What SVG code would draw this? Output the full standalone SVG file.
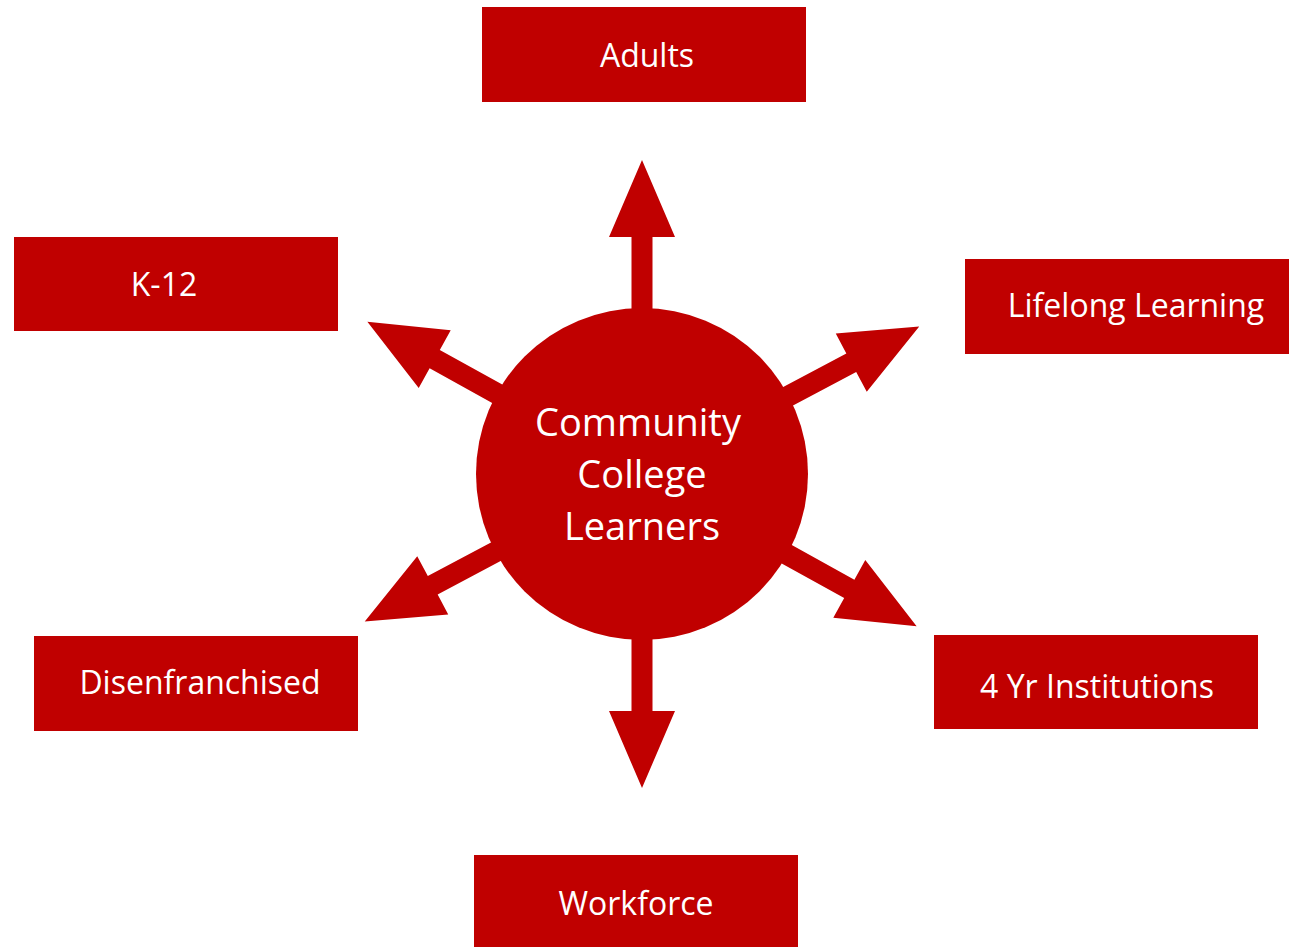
<svg xmlns="http://www.w3.org/2000/svg" width="1289" height="947" viewBox="0 0 1289 947">
<style>
.box{fill:#C00000}
.lbl{fill:#FFFFFF;font-family:"Open Sans","Noto Sans",sans-serif;font-size:32px;text-anchor:middle}
.ctr{fill:#FFFFFF;font-family:"Open Sans","Noto Sans",sans-serif;font-size:38px;text-anchor:middle}
.arr{fill:#C00000}
</style>
<defs>
<path id="arrow" d="M150,-10.5 L237,-10.5 L237,-33 L314,0 L237,33 L237,10.5 L150,10.5 Z"/>
</defs>
<rect width="1289" height="947" fill="#FFFFFF"/>
<g id="connectors" class="arr">
<use href="#arrow" transform="translate(642,474) rotate(-90)"/>
<use href="#arrow" transform="translate(642,474) rotate(90)"/>
<use href="#arrow" transform="translate(642,474) rotate(-151)"/>
<use href="#arrow" transform="translate(642,474) rotate(-28)"/>
<use href="#arrow" transform="translate(642,474) rotate(152)"/>
<use href="#arrow" transform="translate(642,474) rotate(29)"/>
</g>
<g id="center">
<circle cx="642" cy="474" r="166" class="box"/>
<text class="ctr" x="638" y="436">Community</text>
<text class="ctr" x="642" y="488">College</text>
<text class="ctr" x="642" y="540">Learners</text>
</g>
<g id="adults"><rect class="box" x="482" y="7" width="324" height="95"/><text class="lbl" x="647" y="67">Adults</text></g>
<g id="k12"><rect class="box" x="14" y="237" width="324" height="94"/><text class="lbl" x="164" y="296">K-12</text></g>
<g id="lifelong"><rect class="box" x="965" y="259" width="324" height="95"/><text class="lbl" x="1136" y="317">Lifelong Learning</text></g>
<g id="disenfranchised"><rect class="box" x="34" y="636" width="324" height="95"/><text class="lbl" x="200" y="694">Disenfranchised</text></g>
<g id="fouryr"><rect class="box" x="934" y="635" width="324" height="94"/><text class="lbl" x="1097" y="698">4 Yr Institutions</text></g>
<g id="workforce"><rect class="box" x="474" y="855" width="324" height="92"/><text class="lbl" x="636" y="915">Workforce</text></g>
</svg>
